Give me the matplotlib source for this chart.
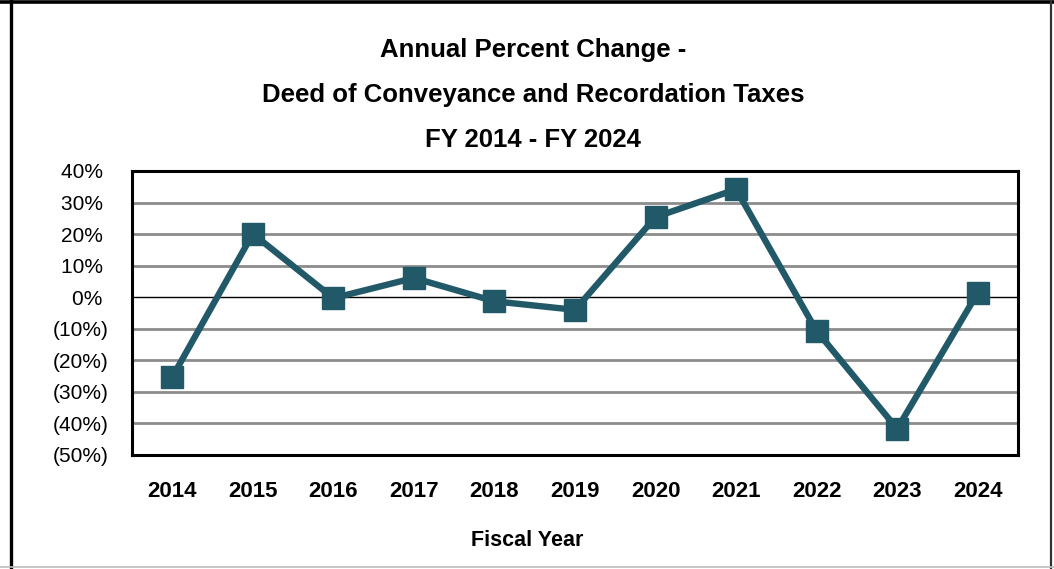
import matplotlib
matplotlib.use("Agg")
import matplotlib.pyplot as plt
from matplotlib.lines import Line2D
from matplotlib.ticker import FuncFormatter

years = ["2014", "2015", "2016", "2017", "2018", "2019", "2020", "2021", "2022", "2023", "2024"]
pct_change = [-25.3, 20.1, -0.3, 6.1, -1.3, -4.0, 25.4, 34.2, -10.7, -41.7, 1.4]

title_lines = ["Annual Percent Change -", "Deed of Conveyance and Recordation Taxes", "FY 2014 - FY 2024"]

W, H = 1054, 569
fig = plt.figure(figsize=(W / 100, H / 100), dpi=100)
font = ["Liberation Sans", "DejaVu Sans"]

# figure border
fig.add_artist(Line2D([10.5 / W, 10.5 / W], [0, 1], transform=fig.transFigure, color="black", lw=2.4))
fig.add_artist(Line2D([0, 1], [1 - 1.5 / H, 1 - 1.5 / H], transform=fig.transFigure, color="black", lw=2.6))
fig.add_artist(Line2D([1051 / W, 1051 / W], [0, 1], transform=fig.transFigure, color="#333333", lw=1.6))
fig.add_artist(Line2D([0, 1], [2.5 / H, 2.5 / H], transform=fig.transFigure, color="#bdbdbd", lw=1.2))

left, right, top, bottom = 132, 1018, 171, 455
ax = fig.add_axes([left / W, 1 - bottom / H, (right - left) / W, (bottom - top) / H])

x = list(range(len(years)))
ax.set_xlim(-0.5, len(years) - 0.5)
ax.set_ylim(-50, 40)
ax.set_yticks(range(-50, 41, 10))
for v in range(-40, 40, 10):
    if v == 0:
        ax.axhline(0, color="black", lw=1.0, zorder=1)
    else:
        ax.axhline(v, color="#8c8c8c", lw=2.0, zorder=1)

ax.plot(x, pct_change, color="#215968", lw=4.6, marker="s", markersize=16,
        markerfacecolor="#215968", markeredgecolor="#215968", zorder=3, clip_on=False)

def fmt(v, pos):
    v = int(round(v))
    return f"{v}% " if v >= 0 else f"({-v}%)"

ax.yaxis.set_major_formatter(FuncFormatter(fmt))
ax.set_xticks(x)
ax.set_xticklabels(years)
ax.tick_params(axis="both", length=0)
ax.tick_params(axis="y", pad=17)
ax.tick_params(axis="x", pad=18.5)
for lab in ax.get_yticklabels():
    lab.set_family(font)
    lab.set_fontsize(15)
for lab in ax.get_xticklabels():
    lab.set_family(font)
    lab.set_fontsize(16)
    lab.set_fontweight("bold")

for s in ax.spines.values():
    s.set_linewidth(2.2)
    s.set_color("black")

fig.text(527 / W, 1 - 540 / H, "Fiscal Year", ha="center", va="center",
         family=font, fontsize=15.5, fontweight="bold")

for i, t in enumerate(title_lines):
    fig.text(533 / W, 1 - (50 + 45 * i) / H, t, ha="center", va="center",
             family=font, fontsize=18.5, fontweight="bold")

fig.savefig("out.png", dpi=100)
